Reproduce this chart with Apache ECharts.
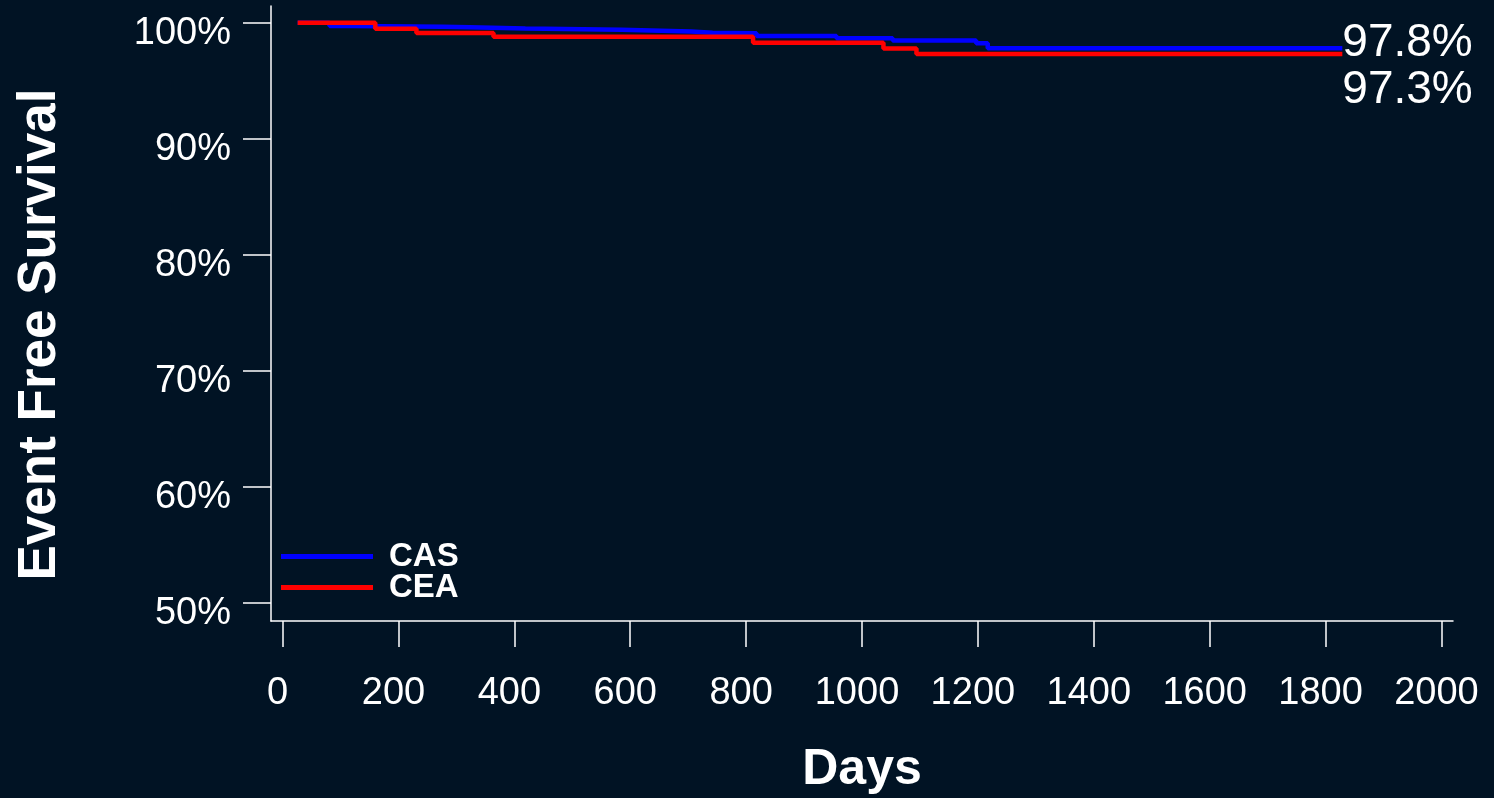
<!DOCTYPE html>
<html>
<head>
<meta charset="utf-8">
<script src="https://cdn.jsdelivr.net/npm/echarts@6/dist/echarts.min.js"></script>
<style>
  html, body { margin: 0; padding: 0; background: #011324; }
  #chart { width: 1494px; height: 798px; }
</style>
</head>
<body>
<div id="chart"></div>
<script>
// Kaplan-Meier steps (day, event free survival %)
const casDays = [26, 81, 119, 276, 323, 419, 585, 705, 742, 818, 956, 1053, 1197, 1217, 1829]
const casSurv = [100, 99.73, 99.65, 99.61, 99.5, 99.41, 99.24, 99.15, 99.09, 98.86, 98.66, 98.48, 98.23, 97.8, 97.8]
const ceaDays = [26, 160, 231, 364, 812, 1037, 1094, 1829]
const ceaSurv = [100, 99.48, 99.13, 98.79, 98.29, 97.79, 97.3, 97.3]

const xTicks = [0, 200, 400, 600, 800, 1000, 1200, 1400, 1600, 1800, 2000]
const yTicks = [50, 60, 70, 80, 90, 100]

const font = 'Liberation Sans, Arial, sans-serif'
const white = '#ffffff'

const chart = echarts.init(document.getElementById('chart'))

const toPairs = (xs, ys) => xs.map((x, i) => [x, ys[i]])

const legendText = {
  color: white,
  fontFamily: font,
  fontWeight: 'bold',
  fontSize: 33,
  lineHeight: 33,
  padding: [16, 0, 0, 11]
}

chart.setOption({
  backgroundColor: '#011324',
  animation: false,
  grid: {
    left: 271,
    right: 41,
    top: 6,
    bottom: 177,
    containLabel: false,
    outerBoundsMode: 'none'
  },
  legend: [
    {
      data: ['CAS'],
      left: 281,
      top: 532,
      padding: 0,
      icon: 'rect',
      itemWidth: 92,
      itemHeight: 5,
      textStyle: legendText
    },
    {
      data: ['CEA'],
      left: 281,
      top: 563,
      padding: 0,
      icon: 'rect',
      itemWidth: 92,
      itemHeight: 5,
      textStyle: legendText
    }
  ],
  xAxis: {
    type: 'value',
    min: -20,
    max: 2020,
    name: 'Days',
    nameLocation: 'middle',
    nameGap: 124,
    nameTextStyle: {
      color: white,
      fontFamily: font,
      fontWeight: 'bold',
      fontSize: 50
    },
    splitLine: { show: false },
    axisLine: { show: true, onZero: false, lineStyle: { color: white, width: 1.5 } },
    axisTick: {
      show: true,
      length: 26,
      customValues: xTicks,
      lineStyle: { color: white, width: 1.5 }
    },
    axisLabel: {
      customValues: xTicks,
      color: white,
      fontFamily: font,
      fontSize: 38,
      margin: 54,
      padding: [0, 10, 0, 0],
      formatter: v => String(v)
    }
  },
  yAxis: {
    type: 'value',
    min: 48.4,
    max: 101.45,
    name: 'Event Free Survival',
    nameLocation: 'middle',
    nameRotate: 90,
    nameGap: 204,
    nameTextStyle: {
      color: white,
      fontFamily: font,
      fontWeight: 'bold',
      fontSize: 53,
      padding: [0, 42, 0, 0]
    },
    splitLine: { show: false },
    axisLine: { show: true, onZero: false, lineStyle: { color: white, width: 1.5 } },
    axisTick: {
      show: true,
      length: 28,
      customValues: yTicks,
      lineStyle: { color: white, width: 1.5 }
    },
    axisLabel: {
      customValues: yTicks,
      color: white,
      fontFamily: font,
      fontSize: 38,
      margin: 40,
      verticalAlign: 'top',
      lineHeight: 22,
      formatter: v => v + '%'
    }
  },
  series: [
    {
      name: 'CAS',
      type: 'line',
      step: 'end',
      symbol: 'none',
      color: '#0000ff',
      lineStyle: { color: '#0000ff', width: 4.5 },
      data: toPairs(casDays, casSurv),
      endLabel: {
        show: true,
        distance: 0,
        offset: [0, -5],
        color: white,
        fontFamily: font,
        fontSize: 46,
        formatter: p => p.value[1].toFixed(1) + '%'
      }
    },
    {
      name: 'CEA',
      type: 'line',
      step: 'end',
      symbol: 'none',
      color: '#ff0000',
      lineStyle: { color: '#ff0000', width: 4.5 },
      data: toPairs(ceaDays, ceaSurv),
      endLabel: {
        show: true,
        distance: 0,
        offset: [0, 36],
        color: white,
        fontFamily: font,
        fontSize: 46,
        formatter: p => p.value[1].toFixed(1) + '%'
      }
    }
  ]
})
</script>
</body>
</html>
